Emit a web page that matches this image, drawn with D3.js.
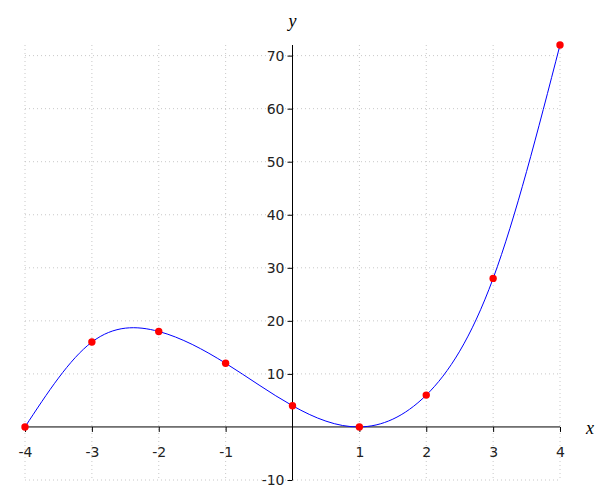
<!DOCTYPE html>
<html><head><meta charset="utf-8">
<script src="https://cdn.jsdelivr.net/npm/d3@7"></script>
<style>body{margin:0;background:#fff}</style>
</head><body>
<svg id="c" width="600" height="500"></svg>
<script>
const xs = [-4, -3, -2, -1, 0, 1, 2, 3, 4];
const ys = [0, 16, 18, 12, 4, 0, 6, 28, 72];
const xTicks = [-4, -3, -2, -1, 1, 2, 3, 4];
const yTicks = [-10, 10, 20, 30, 40, 50, 60, 70];
const gridX = [-4, -3, -2, -1, 1, 2, 3, 4];
const gridY = [-10, 10, 20, 30, 40, 50, 60, 70];

const svg = d3.select("#c");
const x = d3.scaleLinear().domain([-4, 4]).range([25, 560]);
const y = d3.scaleLinear().domain([-10, 72]).range([480, 45]);
const font = "DejaVu Sans, sans-serif";

// grid
svg.append("g").selectAll("line").data(gridX).join("line")
  .attr("x1", d => x(d)).attr("x2", d => x(d))
  .attr("y1", y(72)).attr("y2", y(-10))
  .attr("stroke", "#c8c8c8").attr("stroke-width", 1).attr("stroke-dasharray", "1,3");
svg.append("g").selectAll("line").data(gridY).join("line")
  .attr("x1", x(-4)).attr("x2", x(4))
  .attr("y1", d => y(d)).attr("y2", d => y(d))
  .attr("stroke", "#c8c8c8").attr("stroke-width", 1).attr("stroke-dasharray", "1,3");

// axes
const fmt = d => String(d);
const xAxis = d3.axisBottom(x).tickValues(xTicks).tickSize(5).tickPadding(15).tickFormat(fmt);
const gx = svg.append("g").attr("transform", `translate(0,${y(0)})`).call(xAxis);
gx.select(".domain").attr("d", `M${x(-4)},0H${x(4)}`).attr("stroke", "#000");
const yAxis = d3.axisLeft(y).tickValues(yTicks).tickSize(5).tickPadding(3).tickFormat(fmt);
const gy = svg.append("g").attr("transform", `translate(${x(0)},0)`).call(yAxis);
gy.select(".domain").attr("d", `M0,${y(72)}V${y(-10)}`).attr("stroke", "#000");
svg.selectAll(".tick text").attr("font-family", font).attr("font-size", 14).attr("fill", "#222");
svg.selectAll(".tick line").attr("stroke", "#000");

// curve
const pts = xs.map((v, i) => [v, ys[i]]);
svg.append("path").datum(pts)
  .attr("d", d3.line().x(d => x(d[0])).y(d => y(d[1])).curve(d3.curveNatural))
  .attr("fill", "none").attr("stroke", "#0000ff").attr("stroke-width", 1);

svg.append("g").selectAll("circle").data(pts).join("circle")
  .attr("cx", d => x(d[0])).attr("cy", d => y(d[1])).attr("r", 3.7).attr("fill", "#ff0000");

// axis labels
const serif = "Liberation Serif, Times New Roman, serif";
svg.append("text").attr("x", x(0)).attr("y", 27).attr("text-anchor", "middle")
  .attr("font-family", serif).attr("font-style", "italic").attr("font-size", 18).text("y");
svg.append("text").attr("x", 590).attr("y", y(0) + 7).attr("text-anchor", "middle")
  .attr("font-family", serif).attr("font-style", "italic").attr("font-size", 18).text("x");
</script>
</body></html>
